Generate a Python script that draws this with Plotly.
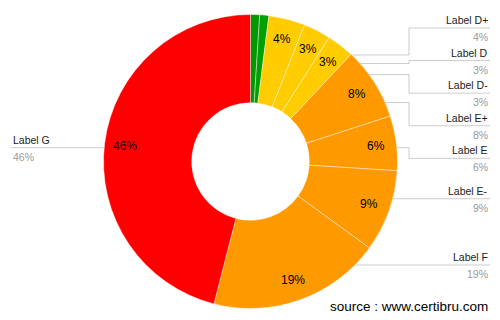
import math
import plotly.graph_objects as go

# ---------------- data ----------------
labels = ["Label B", "Label C", "Label D+", "Label D", "Label D-",
          "Label E+", "Label E", "Label E-", "Label F", "Label G"]
values = [1, 1, 4, 3, 3, 8, 6, 9, 19, 46]
colors = ["#009900", "#00a000", "#ffcc00", "#ffcc00", "#ffcc00",
          "#ff9900", "#ff9900", "#ff9900", "#ff9900", "#ff0000"]
source_text = "source : www.certibru.com"

# ---------------- layout constants (pixels) ----------------
W, H = 500, 320
CX, CY = 250.5, 161.5
R = 147.0
HOLE = 0.4
R_TEXT = 126.0
R_DOT = 110.0
ELBOW_X = 409.0
RIGHT_X = 490.0
LEFT_X = 11.0
GAP = 32.6
LABEL_SHIFT = 4.5
MIN_PCT_TEXT = 2.0  # slices smaller than this (in %) show no text / label

total = float(sum(values))
pcts = [v / total * 100 for v in values]

fig = go.Figure()
fig.add_trace(go.Pie(
    labels=labels, values=values, sort=False, direction="clockwise",
    rotation=0, hole=HOLE, textinfo="none", hoverinfo="skip",
    marker=dict(colors=colors, line=dict(color="rgba(255,255,255,0.6)", width=0.7)),
    domain=dict(x=[(CX - R) / W, (CX + R) / W],
                y=[1 - (CY + R) / H, 1 - (CY - R) / H]),
    showlegend=False,
))

annotations = []
cum = 0.0
slices = []
for lab, v, p in zip(labels, values, pcts):
    mid = (cum + v / 2) / total * 2 * math.pi
    cum += v
    slices.append(dict(label=lab, pct=p, ang=mid))

for s in slices:
    if s["pct"] < MIN_PCT_TEXT:
        continue
    tx = CX + R_TEXT * math.sin(s["ang"])
    ty = CY - R_TEXT * math.cos(s["ang"])
    annotations.append(dict(x=tx, y=ty, xref="x", yref="y", text=f"{round(s['pct'])}%",
                            showarrow=False, font=dict(family="Arial, Liberation Sans", size=12, color="#000000"),
                            xanchor="center", yanchor="middle"))

right, left = [], []
for s in slices:
    if s["pct"] < MIN_PCT_TEXT:
        continue
    s["dx"] = CX + R_DOT * math.sin(s["ang"])
    s["dy"] = CY - R_DOT * math.cos(s["ang"])
    (left if s["ang"] > math.pi else right).append(s)


def spread(items):
    items = sorted(items, key=lambda t: t["dy"])
    clusters = [[it] for it in items]
    changed = True
    while changed:
        changed = False
        pos = []
        for c in clusters:
            m = sum(t["dy"] for t in c) / len(c)
            pos.append((m - GAP * (len(c) - 1) / 2, m + GAP * (len(c) - 1) / 2))
        for i in range(len(clusters) - 1):
            if pos[i + 1][0] - pos[i][1] < GAP:
                clusters[i] = clusters[i] + clusters[i + 1]
                del clusters[i + 1]
                changed = True
                break
    for c in clusters:
        m = sum(t["dy"] for t in c) / len(c)
        if len(c) > 1:
            m += LABEL_SHIFT
        for k, t in enumerate(c):
            t["ly"] = m - GAP * (len(c) - 1) / 2 + GAP * k


spread(right)
spread(left)

line_col = "rgba(0,0,0,0.2)"
name_font = dict(family="Arial, Liberation Sans", size=10.5, color="#222222")
pct_font = dict(family="Arial, Liberation Sans", size=10.5, color="#999999")

for s in right:
    if abs(s["ly"] - s["dy"]) < 2.5:
        s["ly"] = s["dy"]
    xs = [s["dx"], ELBOW_X, ELBOW_X, RIGHT_X]
    ys = [s["dy"], s["dy"], s["ly"], s["ly"]]
    fig.add_trace(go.Scatter(x=xs, y=ys, mode="lines", line=dict(color=line_col, width=1),
                             hoverinfo="skip", showlegend=False))
    annotations.append(dict(x=RIGHT_X, y=s["ly"] - 8, xref="x", yref="y", text=s["label"],
                            showarrow=False, font=name_font, xanchor="right", yanchor="middle"))
    annotations.append(dict(x=RIGHT_X, y=s["ly"] + 9, xref="x", yref="y", text=f"{round(s['pct'])}%",
                            showarrow=False, font=pct_font, xanchor="right", yanchor="middle"))

for s in left:
    xs = [s["dx"], LEFT_X]
    ys = [s["dy"], s["ly"]]
    fig.add_trace(go.Scatter(x=xs, y=ys, mode="lines", line=dict(color=line_col, width=1),
                             hoverinfo="skip", showlegend=False))
    annotations.append(dict(x=LEFT_X, y=s["ly"] - 8, xref="x", yref="y", text=s["label"],
                            showarrow=False, font=name_font, xanchor="left", yanchor="middle"))
    annotations.append(dict(x=LEFT_X, y=s["ly"] + 9, xref="x", yref="y", text=f"{round(s['pct'])}%",
                            showarrow=False, font=pct_font, xanchor="left", yanchor="middle"))

dots = right + left
fig.add_trace(go.Scatter(x=[s["dx"] for s in dots], y=[s["dy"] for s in dots], mode="markers",
                         marker=dict(size=3, color="rgba(0,0,0,0.35)"), hoverinfo="skip", showlegend=False))

annotations.append(dict(x=RIGHT_X, y=306.7, xref="x", yref="y", text=source_text, showarrow=False,
                        font=dict(family="Arial, Liberation Sans", size=13.5, color="#000000"),
                        xanchor="right", yanchor="middle"))

fig.update_layout(
    width=W, height=H, margin=dict(l=0, r=0, t=0, b=0),
    paper_bgcolor="white", plot_bgcolor="rgba(0,0,0,0)",
    xaxis=dict(range=[0, W], visible=False, fixedrange=True),
    yaxis=dict(range=[H, 0], visible=False, fixedrange=True),
    annotations=annotations, showlegend=False,
)

fig.write_html("out.html")
